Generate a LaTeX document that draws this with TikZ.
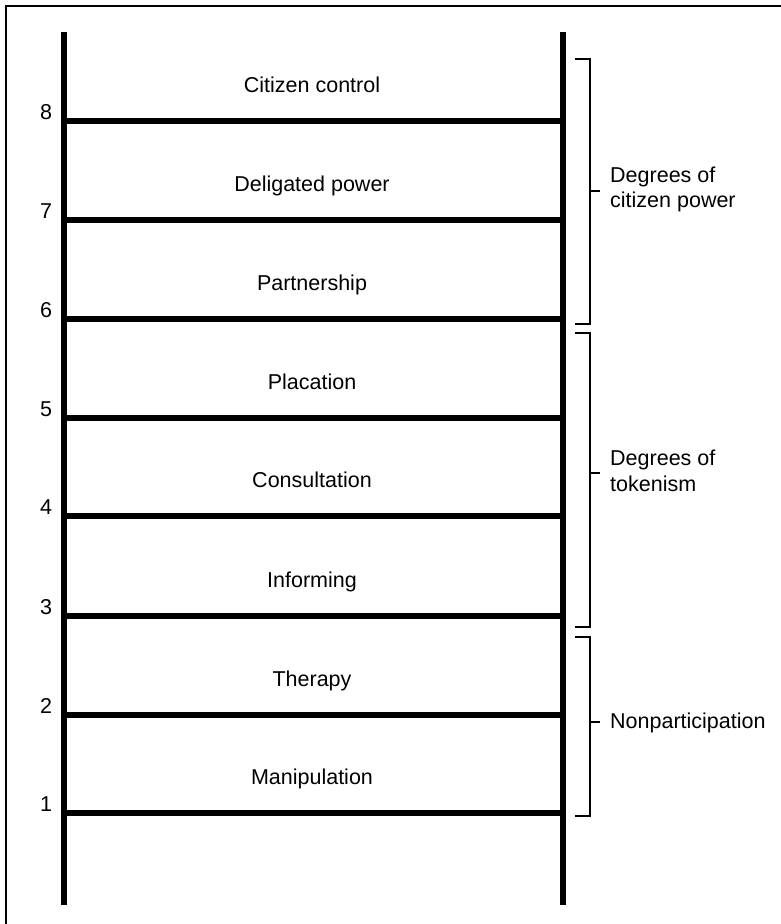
\documentclass[tikz,border=0pt]{standalone}
\usepackage{fontspec}
\setmainfont{Liberation Sans}
\begin{document}
\begin{tikzpicture}[x=1bp,y=-1bp,
  rail/.style={line width=6.5bp},
  rung/.style={line width=6.5bp},
  brk/.style={line width=2bp},
  frame/.style={line width=2.5bp},
  lbl/.style={anchor=base,inner sep=0pt,font=\fontsize{21.5bp}{25bp}\selectfont},
  num/.style={anchor=base,inner sep=0pt,font=\fontsize{21.5bp}{25bp}\selectfont},
  grp/.style={anchor=base west,inner sep=0pt,font=\fontsize{21.5bp}{25bp}\selectfont}]
\useasboundingbox (0,0) rectangle (781,924);
% frame (top and left edges only)
\draw[frame] (6,924) -- (6,6) -- (781,6);
% rails
\coordinate (LT) at (64,32);
\coordinate (LB) at (64,905);
\coordinate (RT) at (563,32);
\coordinate (RB) at (563,905);
\draw[rail] (LT) -- (LB);
\draw[rail] (RT) -- (RB);
% rungs, numbers and labels
\foreach \i/\y/\t in {8/121/Citizen control,7/220/Deligated power,6/319/Partnership,5/418/Placation,4/516/Consultation,3/616/Informing,2/715/Therapy,1/813/Manipulation}{
  \coordinate (rl\i) at (64,\y);
  \coordinate (rr\i) at (563,\y);
  \draw[rung] (rl\i) -- (rr\i);
  \node[num] (n\i) at (46,\y-2) {\i};
  \node[lbl] (t\i) at (312,\y-29) {\t};
}
% brackets
\coordinate (b1a) at (575,59);  \coordinate (b1b) at (575,324);
\draw[brk] (b1a) -- (590,59) -- (590,324) -- (b1b);
\draw[brk] (590,191) -- (600,191);
\node[grp] (g1a) at (610,182) {Degrees of};
\node[grp] (g1b) at (610,207) {citizen power};

\coordinate (b2a) at (575,333);  \coordinate (b2b) at (575,627);
\draw[brk] (b2a) -- (590,333) -- (590,627) -- (b2b);
\draw[brk] (590,473) -- (600,473);
\node[grp] (g2a) at (610,465) {Degrees of};
\node[grp] (g2b) at (610,491) {tokenism};

\coordinate (b3a) at (575,637);  \coordinate (b3b) at (575,816);
\draw[brk] (b3a) -- (590,637) -- (590,816) -- (b3b);
\draw[brk] (590,722) -- (600,722);
\node[grp] (g3) at (610,728) {Nonparticipation};
\end{tikzpicture}
\end{document}
